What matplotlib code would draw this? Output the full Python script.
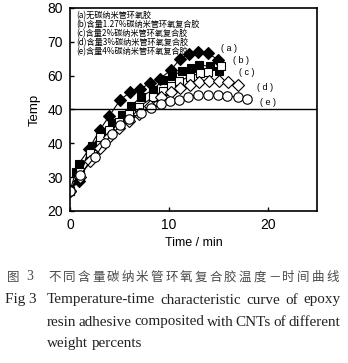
import matplotlib
matplotlib.use("Agg")
import matplotlib.pyplot as plt

# ---- data ----
a_t = [0, 0.9, 1.9, 3.0, 4.0, 5.1, 6.1, 7.1, 8.1, 9.1, 10.2, 11.1, 12.0, 13.0, 14.0, 15.0]
a_T = [25.9, 28.9, 38.3, 43.8, 48.2, 52.9, 55.1, 56.0, 57.8, 59.1, 61.6, 64.8, 66.3, 66.9, 66.6, 64.6]

b_t = [0, 0.6, 0.9, 2.2, 3.4, 4.3, 5.3, 6.2, 7.2, 8.4, 9.4, 10.3, 11.3, 12.2, 13.1, 14.2, 15.1]
b_T = [25.9, 31.6, 34.0, 39.3, 43.1, 45.9, 48.4, 51.0, 53.8, 55.8, 58.6, 59.9, 61.3, 62.3, 63.2, 62.7, 61.3]

c_t = [0, 1.0, 2.0, 3.0, 4.0, 5.0, 6.0, 7.0, 8.4, 9.4, 10.2, 11.0, 12.1, 13.2, 14.0, 15.3]
c_T = [25.9, 31.5, 37.0, 41.8, 44.0, 46.3, 48.6, 50.8, 53.6, 55.6, 57.0, 58.3, 59.7, 60.8, 61.2, 62.7]

d_t = [0, 1.0, 2.0, 3.0, 4.0, 5.0, 6.0, 7.0, 8.1, 9.2, 10.2, 11.1, 12.1, 13.1, 14.1, 15.1, 16.0, 17.0]
d_T = [25.9, 30.0, 34.7, 38.5, 42.0, 44.5, 46.5, 48.6, 51.0, 53.6, 55.3, 56.3, 57.3, 58.0, 58.5, 58.4, 58.1, 57.3]

e_t = [0, 1.0, 2.5, 3.5, 4.3, 5.1, 6.0, 7.2, 8.2, 9.2, 10.1, 11.0, 11.9, 13.0, 14.0, 15.0, 15.9, 17.0, 17.9]
e_T = [25.9, 30.5, 35.9, 40.2, 42.8, 45.3, 47.3, 48.9, 50.4, 51.6, 52.5, 52.9, 53.8, 54.3, 54.2, 54.3, 54.1, 53.6, 53.0]

legend_lines = [
    "(a)无碳纳米管环氧胶",
    "(b)含量1.27%碳纳米管环氧复合胶",
    "(c)含量2%碳纳米管环氧复合胶",
    "(d)含量3%碳纳米管环氧复合胶",
    "(e)含量4%碳纳米管环氧复合胶",
]
curve_tags = ["( a )", "( b )", "( c )", "( d )", "( e )"]
tag_pos = [(15.3, 67.9), (16.5, 64.4), (17.1, 60.9), (18.9, 56.4), (19.2, 52.1)]

y_ticks = [20, 30, 40, 50, 60, 70, 80]
y_ticklabels = ["20", "30", "40", "40", "60", "70", "80"]
x_ticks = [0, 10, 20]

caption_cn = "不同含量碳纳米管环氧复合胶温度－时间曲线"
caption_en = [
    "Temperature-time characteristic curve of epoxy",
    "resin adhesive composited with CNTs of different",
    "weight percents",
]

cjk = ["Noto Sans CJK SC", "DejaVu Sans"]
sans = ["Liberation Sans", "DejaVu Sans"]
serif = ["Liberation Serif", "DejaVu Serif"]
W, H = 348, 363

fig = plt.figure(figsize=(3.48, 3.63), dpi=100)
ax = fig.add_axes([0.201, 0.419, 0.710, 0.559])

series = [
    (a_t, a_T, "D", "black", 6.2),
    (b_t, b_T, "s", "black", 5.6),
    (c_t, c_T, "s", "white", 5.6),
    (d_t, d_T, "D", "white", 6.2),
    (e_t, e_T, "o", "white", 6.8),
]
for t, T, m, fc, ms in series:
    ax.plot(t, T, color="black", lw=0.8, marker=m, markersize=ms,
            markerfacecolor=fc, markeredgecolor="black", markeredgewidth=0.8)

ax.axhline(50, color="black", lw=1.0)

for tag, (x, y) in zip(curve_tags, tag_pos):
    ax.text(x, y, tag, fontsize=6.5, family=sans, va="center", ha="left")

for i, line in enumerate(legend_lines):
    ax.text(0.025, 0.985 - i * 0.0445, line, transform=ax.transAxes,
            fontsize=5.9, family=cjk, va="top", ha="left")

ax.set_xlim(0, 25)
ax.set_ylim(20, 80)
ax.set_xticks(x_ticks)
ax.set_yticks(y_ticks)
ax.set_yticklabels(y_ticklabels)
ax.tick_params(direction="in", length=3, width=1, labelsize=10, pad=5)
for lab in ax.get_xticklabels() + ax.get_yticklabels():
    lab.set_family(sans)
for s in ax.spines.values():
    s.set_linewidth(1.2)
ax.set_xlabel("Time / min", fontsize=9, family=sans, labelpad=4)
ax.set_ylabel("Temp", fontsize=9.5, family=sans, labelpad=5)

# caption, Chinese line: evenly spaced characters
cap_color = "#4a4a4a"
y1 = 1 - 277 / H
fig.text(7 / W, y1, "图", fontsize=9, family=cjk, color=cap_color, va="center")
fig.text(26 / W, y1, "3", fontsize=10, family=serif, color=cap_color, va="center")
pitch = (340 - 47) / len(caption_cn)
for i, ch in enumerate(caption_cn):
    fig.text((47 + pitch * (i + 0.5)) / W, y1, ch, fontsize=9, family=cjk,
             color=cap_color, va="center", ha="center")

# English lines, justified by word
renderer = fig.canvas.get_renderer()
en_color = "#222222"
en_size = 10.9
fig.text(5 / W, 1 - 300 / H, "Fig 3", fontsize=en_size, family=serif, color=en_color, va="center")


def put_line(text, x0, x1, ypix, justify=True):
    words = text.split()
    objs = [fig.text(0, 1 - ypix / H, w, fontsize=en_size, family=serif,
                     color=en_color, va="center", ha="left") for w in words]
    widths = [o.get_window_extent(renderer).width for o in objs]
    if justify and len(words) > 1:
        gap = max((x1 - x0 - sum(widths)) / (len(words) - 1), 2.0)
    else:
        gap = 3.5
    x = x0
    for o, w in zip(objs, widths):
        o.set_x(x / W)
        x += w + gap


put_line(caption_en[0], 47, 340, 300)
put_line(caption_en[1], 47, 340, 322)
put_line(caption_en[2], 47, 340, 343, justify=False)

fig.savefig("out.png", dpi=100)
